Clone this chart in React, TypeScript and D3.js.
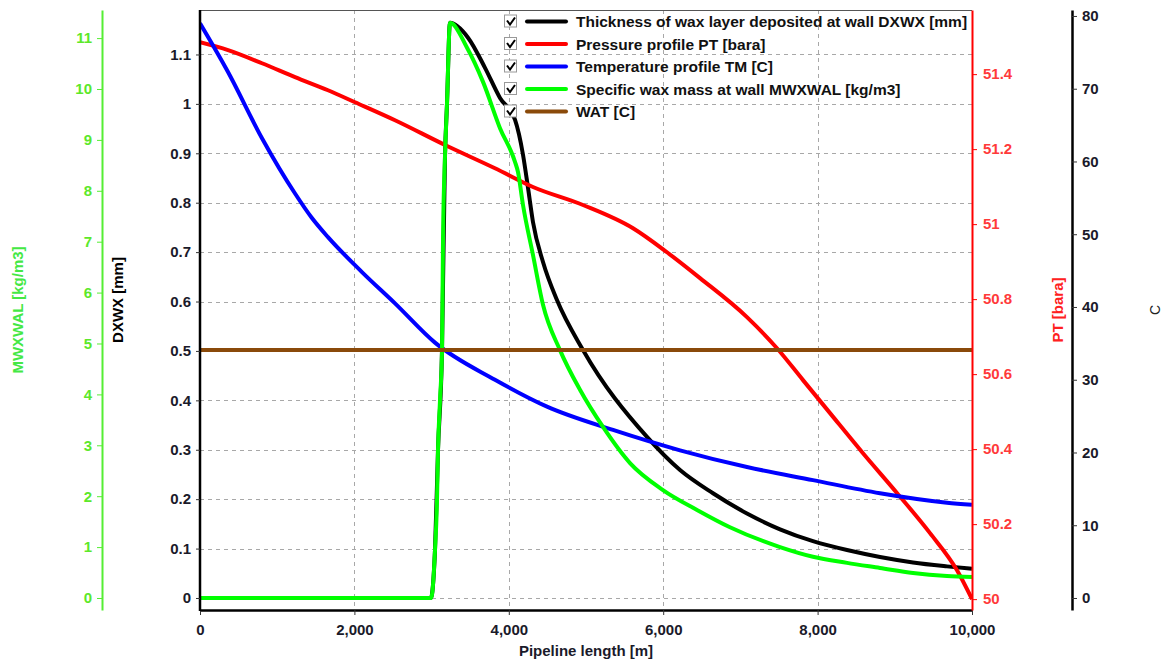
import React, { useEffect, useRef } from 'react';
import * as d3 from 'd3';

// Pipeline length [m] and tick labels
const xTicks = [0, 2000, 4000, 6000, 8000, 10000];
const dxwxTicks = [0, 0.1, 0.2, 0.3, 0.4, 0.5, 0.6, 0.7, 0.8, 0.9, 1, 1.1];
const mwxwalTicks = [0, 1, 2, 3, 4, 5, 6, 7, 8, 9, 10, 11];
const ptTicks = [50, 50.2, 50.4, 50.6, 50.8, 51, 51.2, 51.4];
const cTicks = [0, 10, 20, 30, 40, 50, 60, 70, 80];

// Thickness of wax layer deposited at wall DXWX [mm]
const dxwxLength = [0, 2990, 3044, 3083, 3135, 3174, 3199, 3238, 3472, 3692, 3886, 4080, 4184, 4249, 4313, 4443, 4624, 4961, 5790, 6218, 6645, 7085, 7513, 7940, 8381, 8808, 9236, 9676, 10000];
const dxwxValues = [0, 0, 0.097, 0.3, 0.502, 0.897, 0.998, 1.164, 1.134, 1.073, 1.012, 0.968, 0.897, 0.83, 0.761, 0.68, 0.603, 0.502, 0.326, 0.259, 0.212, 0.171, 0.139, 0.115, 0.097, 0.083, 0.072, 0.064, 0.059];

// Pressure profile PT [bara]
const ptLength = [0, 363, 803, 1231, 1658, 2008, 2526, 3174, 3821, 4313, 4961, 5609, 6049, 6477, 7085, 7474, 7811, 8161, 8588, 9028, 9456, 9806, 10000];
const ptValues = [51.485, 51.464, 51.429, 51.392, 51.357, 51.325, 51.277, 51.211, 51.149, 51.099, 51.051, 50.989, 50.925, 50.856, 50.752, 50.669, 50.584, 50.496, 50.389, 50.283, 50.176, 50.077, 50.0];

// Temperature profile TM [C]
const tmLength = [0, 363, 803, 1231, 1445, 1658, 2098, 2526, 3044, 3821, 4495, 5350, 6218, 7085, 7940, 8808, 9676, 10000];
const tmValues = [79.0, 72.3, 63.2, 55.6, 52.3, 49.6, 44.8, 40.5, 35.1, 30.0, 26.3, 23.1, 20.3, 18.0, 16.2, 14.4, 13.1, 12.8];

// Specific wax mass at wall MWXWAL [kg/m3]
const mwxLength = [0, 2992, 3005, 3044, 3070, 3083, 3109, 3135, 3148, 3174, 3199, 3238, 3459, 3666, 3886, 4080, 4119, 4184, 4313, 4443, 4663, 4922, 5220, 5570, 5997, 6438, 6865, 7513, 7940, 8381, 8808, 9236, 9676, 10000];
const mwxValues = [0, 0, 0.06, 0.94, 1.92, 2.91, 3.89, 4.87, 7.07, 8.7, 9.69, 11.3, 10.81, 10.14, 9.23, 8.57, 8.37, 7.72, 6.74, 5.76, 4.87, 4.09, 3.36, 2.65, 2.12, 1.73, 1.39, 1.0, 0.81, 0.69, 0.59, 0.49, 0.43, 0.41];

// WAT [C]
const watLength = [0, 10000];
const watValues = [34.1, 34.1];

const legendLabels = [
  'Thickness of wax layer deposited at wall DXWX [mm]',
  'Pressure profile PT [bara]',
  'Temperature profile TM [C]',
  'Specific wax mass at wall MWXWAL [kg/m3]',
  'WAT [C]',
];
const legendColors = ['#000000', '#ff0000', '#0000ff', '#00ff00', '#8a4a0a'];

const WIDTH = 1163;
const HEIGHT = 661;
const FONT = 'Liberation Sans, Arial, sans-serif';

const App = () => {
  const svgRef = useRef<SVGSVGElement>(null);

  useEffect(() => {
    const svg = d3.select(svgRef.current);
    svg.selectAll('*').remove();

    const left = 200, right = 972, top = 10, bottom = 610;

    const x = d3.scaleLinear().domain([0, 10000]).range([left, right]);
    const yDx = d3.scaleLinear().domain([-0.0243, 1.19]).range([bottom, top]);
    const yMw = d3.scaleLinear().domain([-0.236, 11.552]).range([bottom, top]);
    const yPt = d3.scaleLinear().domain([49.971, 51.571]).range([bottom, top]);
    const yC = d3.scaleLinear().domain([-1.65, 80.82]).range([bottom, top]);

    svg.append('rect').attr('width', WIDTH).attr('height', HEIGHT).attr('fill', '#fff');

    // grid
    const grid = svg.append('g').attr('stroke', '#a8a8a8').attr('stroke-dasharray', '4,4').attr('stroke-width', 1);
    grid.selectAll('.hg').data(dxwxTicks).enter().append('line')
      .attr('x1', left).attr('x2', right)
      .attr('y1', d => Math.round(yDx(d)) + 0.5).attr('y2', d => Math.round(yDx(d)) + 0.5);
    grid.selectAll('.vg').data(xTicks.slice(1, -1)).enter().append('line')
      .attr('y1', top).attr('y2', bottom)
      .attr('x1', d => Math.round(x(d)) + 0.5).attr('x2', d => Math.round(x(d)) + 0.5);

    // top border
    svg.append('line').attr('x1', left).attr('x2', right).attr('y1', top + 0.5).attr('y2', top + 0.5)
      .attr('stroke', '#555').attr('stroke-width', 1);

    svg.append('clipPath').attr('id', 'plotClip').append('rect')
      .attr('x', left).attr('y', top).attr('width', right - left).attr('height', bottom - top);

    const plot = svg.append('g').attr('clip-path', 'url(#plotClip)');

    const series = [
      { xs: dxwxLength, ys: dxwxValues, y: yDx, color: legendColors[0] },
      { xs: ptLength, ys: ptValues, y: yPt, color: legendColors[1] },
      { xs: tmLength, ys: tmValues, y: yC, color: legendColors[2] },
      { xs: mwxLength, ys: mwxValues, y: yMw, color: legendColors[3] },
      { xs: watLength, ys: watValues, y: yC, color: legendColors[4] },
    ];

    series.forEach(s => {
      const pts = s.xs.map((v, i) => [v, s.ys[i]] as [number, number]);
      const line = d3.line<[number, number]>()
        .x(d => x(d[0]))
        .y(d => s.y(d[1]))
        .curve(d3.curveMonotoneX);
      plot.append('path')
        .datum(pts)
        .attr('fill', 'none')
        .attr('stroke', s.color)
        .attr('stroke-width', 4)
        .attr('stroke-linejoin', 'round')
        .attr('d', line);
    });

    const styleAxis = (g, color, textColor, width) => {
      g.select('.domain').attr('stroke', color).attr('stroke-width', width);
      g.selectAll('.tick line').attr('stroke', color === '#000' ? '#333' : color);
      g.selectAll('.tick text')
        .attr('fill', textColor)
        .style('font-family', FONT)
        .style('font-size', '15px')
        .style('font-weight', 'bold');
    };

    const fmt1 = (d: number) => String(+d.toFixed(1));

    // x axis
    const gx = svg.append('g').attr('transform', `translate(0,${bottom})`)
      .call(d3.axisBottom(x).tickValues(xTicks).tickFormat(d3.format(',')).tickSize(5).tickSizeOuter(0).tickPadding(9));
    styleAxis(gx, '#000', '#1a1a2a', 2.5);

    // DXWX axis
    const gDx = svg.append('g').attr('transform', `translate(${left},0)`)
      .call(d3.axisLeft(yDx).tickValues(dxwxTicks).tickFormat(fmt1).tickSize(4).tickSizeOuter(0).tickPadding(5));
    styleAxis(gDx, '#000', '#1a1a2a', 2.5);
    gDx.select('.domain').attr('d', `M0,${top}V${bottom + 1}`);

    // MWXWAL axis
    const gMw = svg.append('g').attr('transform', `translate(102,0)`)
      .call(d3.axisLeft(yMw).tickValues(mwxwalTicks).tickSize(5).tickSizeOuter(0).tickPadding(5));
    styleAxis(gMw, '#55ee33', '#5ce82a', 2);

    // PT axis
    const gPt = svg.append('g').attr('transform', `translate(${right},0)`)
      .call(d3.axisRight(yPt).tickValues(ptTicks).tickFormat(fmt1).tickSize(5).tickSizeOuter(0).tickPadding(6));
    styleAxis(gPt, '#ff0000', '#ff3a3a', 2);

    // C axis
    const gC = svg.append('g').attr('transform', `translate(1072,0)`)
      .call(d3.axisRight(yC).tickValues(cTicks).tickSize(5).tickSizeOuter(0).tickPadding(5));
    styleAxis(gC, '#000', '#1a1a2a', 2.5);

    // axis titles
    const title = (txt, tx, ty, color, rotate, weight = 'bold', size = 15) => {
      svg.append('text')
        .attr('transform', `translate(${tx},${ty})${rotate ? ' rotate(-90)' : ''}`)
        .attr('text-anchor', 'middle')
        .attr('dominant-baseline', 'central')
        .attr('fill', color)
        .style('font-family', FONT)
        .style('font-size', `${size}px`)
        .style('font-weight', weight)
        .text(txt);
    };
    title('Pipeline length [m]', (left + right) / 2, 650, '#1a1a2a', false);
    title('DXWX [mm]', 117, 300, '#000', true);
    title('MWXWAL [kg/m3]', 17, 310, '#44e844', true);
    title('PT [bara]', 1057, 310, '#ff2020', true);
    title('C', 1155, 310, '#222', true, 'normal', 14);

    // legend
    const legend = svg.append('g');
    legendLabels.forEach((lbl, i) => {
      const cy = 21.5 + i * 22.5;
      const row = legend.append('g');
      row.append('rect')
        .attr('x', 504.5).attr('y', cy - 6.5).attr('width', 12).attr('height', 12)
        .attr('fill', '#fff').attr('stroke', '#999').attr('stroke-width', 1);
      row.append('path')
        .attr('d', `M507,${cy - 1} L510,${cy + 3} L515,${cy - 4}`)
        .attr('fill', 'none').attr('stroke', '#000').attr('stroke-width', 2);
      row.append('line')
        .attr('x1', 527).attr('x2', 566).attr('y1', cy).attr('y2', cy)
        .attr('stroke', legendColors[i]).attr('stroke-width', 4).attr('stroke-linecap', 'round');
      row.append('text')
        .attr('x', 576).attr('y', cy)
        .attr('dominant-baseline', 'central')
        .attr('fill', '#111')
        .style('font-family', FONT)
        .style('font-size', '15.5px')
        .style('font-weight', 'bold')
        .text(lbl);
    });
  }, []);

  return (
    <svg
      ref={svgRef}
      width={WIDTH}
      height={HEIGHT}
      style={{ position: 'absolute', left: 0, top: 0, display: 'block' }}
    />
  );
};

export default App;
